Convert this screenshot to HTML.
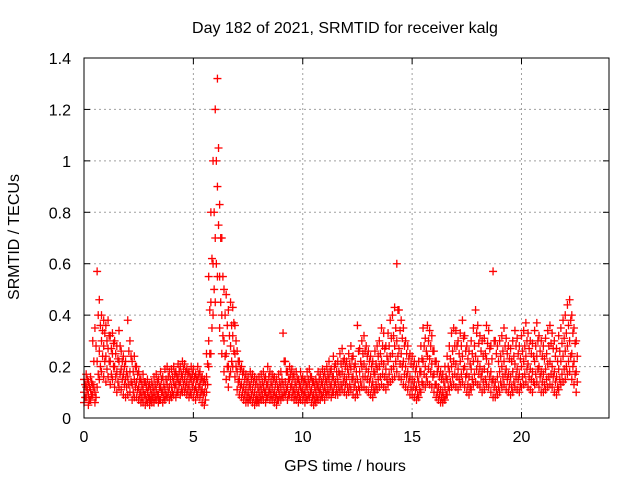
<!DOCTYPE html>
<html><head><meta charset="utf-8"><style>
body{margin:0;background:#fff;}
svg text{font-family:"Liberation Sans",sans-serif;font-size:16px;fill:#000;}
</style></head><body>
<svg id="chart" width="640" height="480">
<rect width="640" height="480" fill="#fff"/>
<g id="grid"></g><g id="marks"></g><g id="axes"></g>
</svg>
<script>
const hours = [];
for (let i = 0; i < 226; i++) hours.push(i / 10);
const hoursOffset = [];
for (let i = 0; i < 226; i++) hoursOffset.push(i / 10 + 0.05);
const xTicks = [0, 5, 10, 15, 20];
const yTicks = [0, 0.2, 0.4, 0.6, 0.8, 1, 1.2, 1.4];
const yTickLabels = ["0", "0.2", "0.4", "0.6", "0.8", "1", "1.2", "1.4"];
const midVals = [10,12,9,11,13,10,22,26,30,28, 24,27,22,25,20,18,22,19,17,15, 16,18,13,15,14,12,10,11,9,10, 8,9,10,11,9,12,10,11,13,12, 12,14,13,15,14,16,15,14,13,15, 14,12,15,13,11,10,16,30,45,60, 70,90,55,40,30,25,20,28,32,25, 18,15,13,12,11,10,12,11,10,9, 10,11,12,10,13,11,12,10,9,11, 12,13,14,12,15,13,11,12,10,12, 11,10,12,13,11,9,10,12,11,13, 12,14,15,13,16,14,15,17,18,16, 15,17,19,16,14,15,18,20,21,19, 18,16,14,17,19,20,22,21,19,22, 24,25,28,30,27,25,22,20,18,16, 15,14,12,14,18,22,20,24,23,21, 17,13,12,11,10,12,15,18,20,22, 21,19,22,24,20,17,16,19,22,24, 22,20,18,19,23,21,18,15,14,16, 18,20,22,19,17,16,18,21,19,17, 20,22,24,21,19,18,22,24,20,18, 17,19,21,22,20,18,16,19,22,24, 26,28,30,25,22,18];
const highVals = [15,17,14,16,30,35,57,46,40,38, 36,38,32,33,30,28,34,26,24,22, 38,30,22,24,20,18,15,17,14,15, 13,14,16,17,15,18,16,19,20,18, 19,20,18,21,20,22,21,19,18,20, 19,17,20,18,16,15,25,55,80,100, 120,132,83,70,50,48,42,45,43,36, 26,22,20,18,17,16,18,17,16,15, 16,17,18,16,20,18,17,16,15,17, 18,33,22,18,20,19,17,18,15,18, 16,15,18,19,16,14,15,18,17,19, 18,20,22,19,24,21,22,25,27,23, 22,25,28,24,21,36,27,30,32,28, 26,24,22,26,28,30,35,33,28,33, 38,40,43,60,42,38,35,30,28,25, 24,22,20,22,28,35,31,36,34,32, 26,22,20,18,17,20,24,28,33,35, 34,30,33,38,32,28,26,30,35,42, 36,32,30,31,36,34,28,57,30,28, 30,32,35,31,28,27,30,34,31,28, 32,34,37,33,30,29,34,37,32,30, 28,31,34,36,33,30,27,32,35,38, 40,44,46,40,35,30];
const lowVals = [6,8,5,7,9,6,12,15,18,16, 14,16,13,15,12,10,12,11,9,8, 9,10,7,8,8,7,6,6,5,6, 5,6,6,7,6,7,6,7,8,7, 8,9,8,10,9,10,10,9,8,9, 8,7,9,8,6,5,10,20,25,40, 45,55,35,25,18,15,12,18,20,16, 11,9,8,7,6,6,7,6,5,6, 6,7,7,6,8,7,7,6,5,7, 7,8,9,7,9,8,7,7,6,7, 7,6,7,8,6,5,6,7,7,8, 7,9,9,8,10,9,9,10,11,10, 9,10,11,9,8,9,11,12,12,11, 10,9,8,10,11,12,13,12,11,13, 14,15,16,18,16,15,13,12,11,9, 9,8,7,8,10,13,12,14,13,12, 10,8,7,6,6,7,9,11,12,13, 12,11,13,14,12,10,9,11,13,14, 13,12,10,11,13,12,10,8,8,9, 10,12,13,11,10,9,10,12,11,10, 12,13,14,12,11,10,13,14,12,10, 10,11,12,13,12,10,9,11,13,14, 15,17,18,15,13,10];
const lowMidVals = [8,11,7,9,12,8,17,20,24,22, 19,22,17,20,16,14,17,15,13,12, 13,14,10,12,11,9,8,9,7,8, 7,8,8,9,7,10,8,9,10,9, 10,12,10,13,11,13,12,11,10,12, 11,10,12,10,9,7,13,25,35,50, 60,75,45,32,24,20,16,22,26,20, 14,12,10,9,8,8,9,8,7,7, 8,9,10,8,10,9,9,8,7,9, 9,10,11,9,12,10,9,9,8,10, 9,8,9,10,8,7,8,10,9,10, 10,11,12,10,13,11,12,13,14,13, 12,13,15,12,11,12,14,16,16,15, 14,12,11,13,15,16,17,16,15,17, 19,20,22,24,21,20,17,16,14,12, 12,11,9,11,14,17,16,19,18,16, 13,10,9,8,8,9,12,14,16,17, 16,15,17,19,16,13,12,15,17,19, 17,16,14,15,18,16,14,12,11,12, 14,16,17,15,13,12,14,16,15,13, 16,17,19,16,15,14,17,19,16,14, 13,15,16,17,16,14,12,15,17,19, 20,22,24,20,17,14];
const midHighVals = [13,15,12,14,22,28,40,36,34,33, 30,32,27,29,25,23,28,22,20,18, 26,24,18,20,17,15,13,14,12,12, 11,12,13,14,12,15,13,15,16,15, 16,17,16,18,17,19,18,17,16,17, 16,15,17,15,14,13,21,42,62,80, 100,105,70,55,40,36,32,36,37,30, 22,19,17,15,14,13,15,14,13,12, 13,14,15,13,16,14,15,13,12,14, 15,22,18,15,17,16,14,15,13,15, 14,13,15,16,14,12,13,15,14,16, 15,17,18,16,20,18,18,21,22,20, 19,21,23,20,18,26,22,25,26,24, 22,20,18,21,24,25,28,27,24,28, 31,32,35,42,34,31,28,25,23,21, 20,18,16,18,23,28,26,30,28,26, 22,18,16,15,14,16,20,23,26,28, 28,25,28,31,26,23,21,25,28,33, 29,26,24,25,29,27,23,30,25,22, 24,26,28,25,23,22,24,28,25,23, 26,28,30,27,25,24,28,30,26,24, 23,25,28,29,27,24,22,26,29,31, 33,36,38,33,29,24];

const L=84,R=609,T=58,B=418;
const xs=v=>L+(v/24)*(R-L);
const ys=v=>B-(v/1.4)*(B-T);
const NS="http://www.w3.org/2000/svg";
function mk(tag,attrs,parent){const e=document.createElementNS(NS,tag);for(const k in attrs)e.setAttribute(k,attrs[k]);parent.appendChild(e);return e;}
const grid=document.getElementById('grid'),marks=document.getElementById('marks'),axes=document.getElementById('axes'),svg=document.getElementById('chart');

xTicks.forEach(t=>{const x=xs(t);
 if(t>0){const g=mk('line',{x1:x,x2:x,y1:T,y2:B,stroke:'#a0a0a0','stroke-dasharray':'2,3'},grid);
 
 }
 mk('line',{x1:x,x2:x,y1:B,y2:B-6,stroke:'#000'},axes);
 mk('line',{x1:x,x2:x,y1:T,y2:T+6,stroke:'#000'},axes);
 const tx=mk('text',{x:x,y:B+24,'text-anchor':'middle'},axes);tx.textContent=t;
 
 
});
yTicks.forEach((t,i)=>{const y=ys(t);
 if(t>0&&t<1.4){const g=mk('line',{x1:L,x2:R,y1:y,y2:y,stroke:'#a0a0a0','stroke-dasharray':'2,3'},grid);
 
 }
 mk('line',{x1:L,x2:L+6,y1:y,y2:y,stroke:'#000'},axes);
 mk('line',{x1:R,x2:R-6,y1:y,y2:y,stroke:'#000'},axes);
 const tx=mk('text',{x:L-13,y:y+6,'text-anchor':'end'},axes);tx.textContent=yTickLabels[i];
 
 
});
const fr=mk('rect',{x:L,y:T,width:R-L,height:B-T,fill:'none',stroke:'#000'},axes);



function plus(v,t){const x=xs(t),y=ys(v/100);
 const p=mk('path',{d:`M${x-4},${y}H${x+4}M${x},${y-4}V${y+4}`,stroke:'#ff0000','stroke-width':1.3},marks);
 
 }
[lowVals,midVals,highVals].forEach(arr=>arr.forEach((v,i)=>plus(v,hours[i])));
[lowMidVals,midHighVals].forEach(arr=>arr.forEach((v,i)=>plus(v,hoursOffset[i])));

const title=mk('text',{x:345,y:33,'text-anchor':'middle'},svg);title.textContent='Day 182 of 2021, SRMTID for receiver kalg';


const xl=mk('text',{x:345,y:471,'text-anchor':'middle'},svg);xl.textContent='GPS time / hours';


const yl=mk('text',{x:0,y:0,'text-anchor':'middle',transform:'translate(19,237) rotate(-90)'},svg);yl.textContent='SRMTID / TECUs';


</script>
</body></html>
